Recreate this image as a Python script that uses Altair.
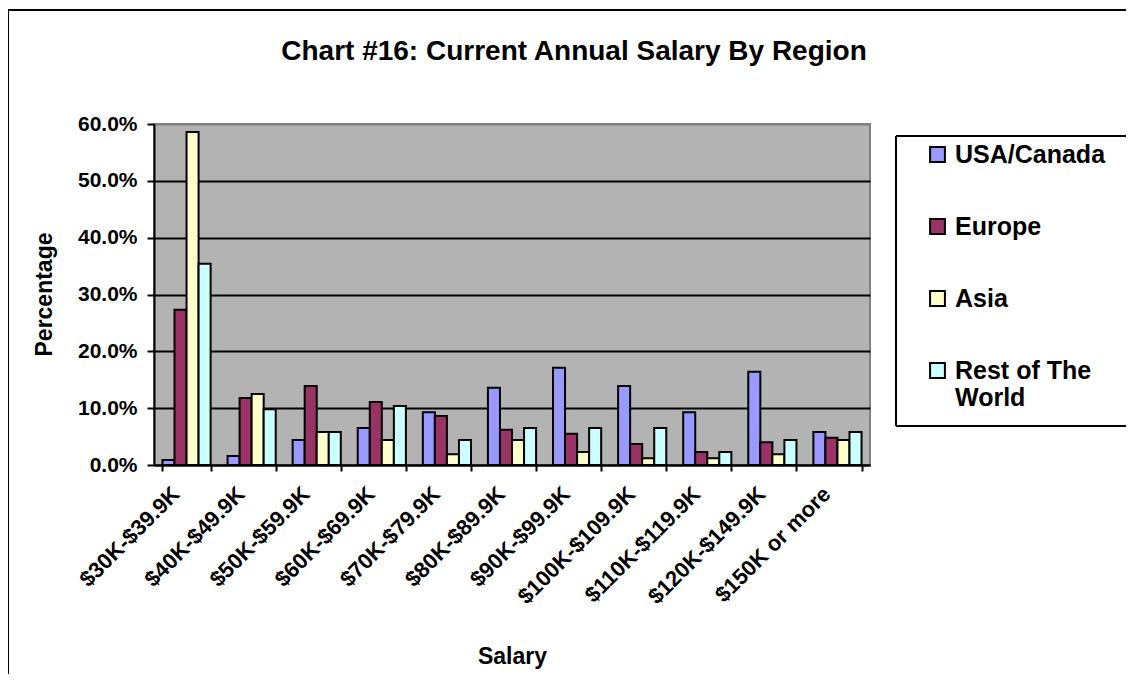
import altair as alt
import pandas as pd

salary_bands = ["$30K-$39.9K", "$40K-$49.9K", "$50K-$59.9K", "$60K-$69.9K",
                "$70K-$79.9K", "$80K-$89.9K", "$90K-$99.9K", "$100K-$109.9K",
                "$110K-$119.9K", "$120K-$149.9K", "$150K or more"]
regions = ["USA/Canada", "Europe", "Asia", "Rest of The World"]
usa_canada = [0.9, 1.6, 4.4, 6.5, 9.3, 13.6, 17.1, 13.9, 9.3, 16.4, 5.8]
europe = [27.3, 11.8, 13.9, 11.1, 8.6, 6.2, 5.5, 3.7, 2.3, 4.0, 4.8]
asia = [58.6, 12.5, 5.8, 4.4, 1.9, 4.4, 2.3, 1.2, 1.2, 1.9, 4.4]
rest_of_world = [35.4, 9.8, 5.8, 10.4, 4.4, 6.5, 6.5, 6.5, 2.3, 4.4, 5.8]
colors = ["#9999FF", "#993366", "#FFFFCC", "#CCFFFF"]
chart_title = "Chart #16: Current Annual Salary By Region"

rows = []
for region, vals in zip(regions, [usa_canada, europe, asia, rest_of_world]):
    for band, v in zip(salary_bands, vals):
        rows.append({"Salary": band, "Region": region, "Pct": v / 100.0})
df = pd.DataFrame(rows)

FONT = "Liberation Sans"

bars = alt.Chart(df).mark_bar(stroke="black", strokeWidth=2, opacity=1).encode(
    x=alt.X("Salary:N", sort=salary_bands,
            scale=alt.Scale(paddingInner=0.26, paddingOuter=0.13),
            axis=alt.Axis(title="Salary", labelAngle=-45, labelFontSize=22,
                          labelFontWeight="bold", labelFont=FONT, labelColor="black",
                          labelOverlap=False, labelLimit=300, labelPadding=12,
                          labelOffset=-18,
                          tickBand="extent", tickSize=6, tickWidth=2, tickColor="black",
                          domainColor="black", domainWidth=2, grid=False,
                          titleFontSize=23, titleFont=FONT, titleFontWeight="bold",
                          titleColor="black", titleY=180, titleBaseline="top")),
    xOffset=alt.XOffset("Region:N", sort=regions),
    y=alt.Y("Pct:Q", scale=alt.Scale(domain=[0, 0.6], nice=False),
            axis=alt.Axis(title="Percentage", format=".1%", values=[0, 0.1, 0.2, 0.3, 0.4, 0.5, 0.6],
                          labelFontSize=21, labelFontWeight="bold", labelFont=FONT,
                          labelColor="black", labelPadding=10,
                          tickSize=7, tickWidth=2, tickColor="black",
                          domainColor="black", domainWidth=2,
                          grid=True, gridWidth=2,
                          gridColor={"condition": {"test": "datum.value >= 0.6", "value": "#808080"},
                                     "value": "black"},
                          titleFontSize=23, titleFont=FONT, titleFontWeight="bold",
                          titleColor="black", titleX=-110, titleY=170, titleAngle=-90,
                          titleBaseline="middle")),
    fill=alt.Fill("Region:N", sort=regions,
                  scale=alt.Scale(domain=regions, range=colors),
                  legend=alt.Legend(title=None, orient="none", legendX=771, legendY=18,
                                    symbolType="square", symbolSize=220,
                                    symbolStrokeColor="black", symbolStrokeWidth=2,
                                    labelFontSize=25, labelFontWeight="bold", labelFont=FONT,
                                    labelColor="black", labelOffset=5, labelLimit=400,
                                    rowPadding=46, padding=0,
                                    labelExpr="datum.label == 'Rest of The World' ? ['Rest of The', 'World'] : datum.label")),
)

one = alt.Data(values=[{}])

frame_top = alt.Chart(one).mark_rule(color="black", strokeWidth=2).encode(
    x=alt.value(-146), x2=alt.value(972), y=alt.value(-114))
frame_left = alt.Chart(one).mark_rule(color="black", strokeWidth=2).encode(
    x=alt.value(-146), y=alt.value(-114), y2=alt.value(560))

box_top = alt.Chart(one).mark_rule(color="black", strokeWidth=2).encode(
    x=alt.value(742), x2=alt.value(972), y=alt.value(12))
box_bottom = alt.Chart(one).mark_rule(color="black", strokeWidth=2).encode(
    x=alt.value(742), x2=alt.value(972), y=alt.value(302))
box_left = alt.Chart(one).mark_rule(color="black", strokeWidth=2).encode(
    x=alt.value(742), y=alt.value(12), y2=alt.value(302))

title = alt.Chart(alt.Data(values=[{"t": chart_title}])).mark_text(
    font=FONT, fontSize=28, fontWeight="bold", color="black",
    align="center", baseline="alphabetic"
).encode(x=alt.value(420), y=alt.value(-64), text="t:N")

chart = alt.layer(frame_top, frame_left, box_top, box_bottom, box_left, title, bars).properties(
    width=716, height=341,
    autosize=alt.AutoSizeParams(type="none"),
    padding={"left": 146, "top": 116, "right": 256, "bottom": 209},
    background="white",
).configure_view(fill="#B3B3B3", stroke="#808080", strokeWidth=2)

chart.save("out.html", embed_options={"renderer": "svg", "actions": False})
